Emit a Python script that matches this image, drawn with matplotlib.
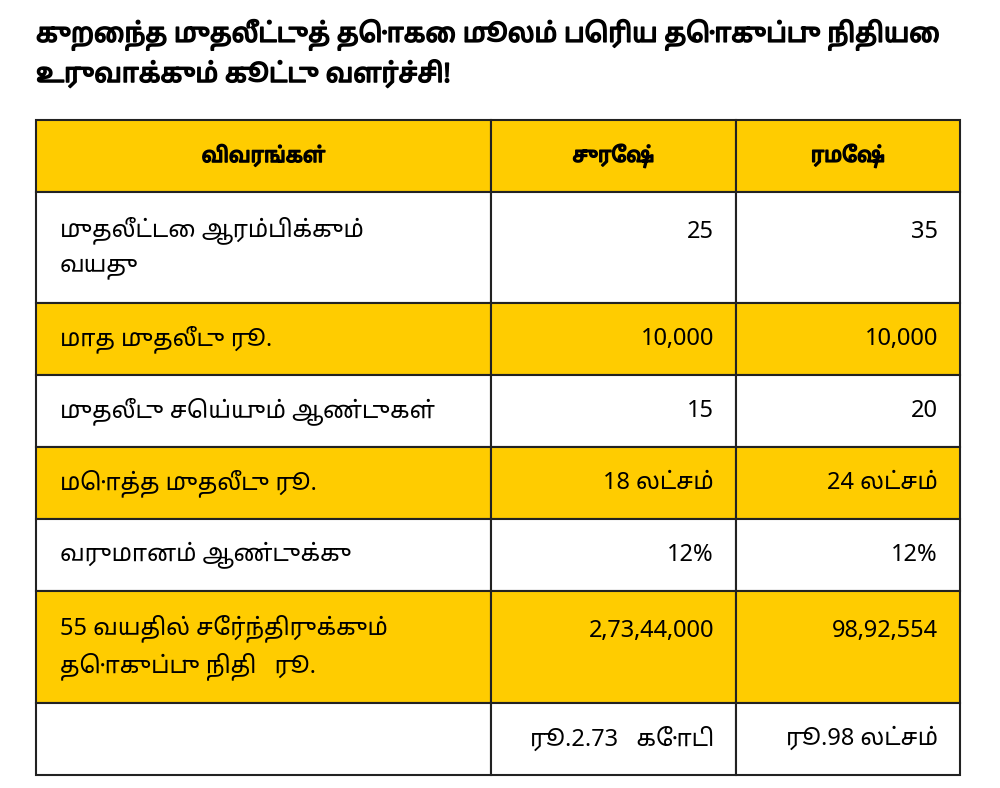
import matplotlib.pyplot as plt
import matplotlib.patches as mpatches
import matplotlib.patheffects as pe
from matplotlib import font_manager

names = {f.name for f in font_manager.fontManager.ttflist}
tamil = [f for f in ['Noto Sans Tamil', 'Lohit Tamil', 'Noto Serif Tamil', 'FreeSerif'] if f in names]
plt.rcParams['font.family'] = tamil + ['Noto Sans', 'DejaVu Sans']

TITLE = ['குறைந்த முதலீட்டுத் தொகை மூலம் பெரிய தொகுப்பு நிதியை',
         'உருவாக்கும் கூட்டு வளர்ச்சி!']
HEADERS = ['விவரங்கள்', 'சுரேஷ்', 'ரமேஷ்']
ROW_LABELS = ['முதலீட்டை ஆரம்பிக்கும்\nவயது', 'மாத முதலீடு ரூ.', 'முதலீடு செய்யும் ஆண்டுகள்',
              'மொத்த முதலீடு ரூ.', 'வருமானம் ஆண்டுக்கு',
              '55 வயதில் சேர்ந்திருக்கும்\nதொகுப்பு நிதி   ரூ.', '']
SURESH = ['25', '10,000', '15', '18 லட்சம்', '12%', '2,73,44,000', 'ரூ.2.73   கோடி']
RAMESH = ['35', '10,000', '20', '24 லட்சம்', '12%', '98,92,554', 'ரூ.98 லட்சம்']

YELLOW = '#FFCC00'
col_x = [36, 491, 736, 960]
row_y = [120, 192, 303, 375, 447, 519, 591, 703, 775]
bold = [pe.withStroke(linewidth=1.1, foreground='black')]

fig = plt.figure(figsize=(10, 7.88), dpi=100)
ax = fig.add_axes([0, 0, 1, 1])
ax.set_xlim(0, 1000)
ax.set_ylim(788, 0)
ax.axis('off')

for i, line in enumerate(TITLE):
    ax.text(36, 35 + 40 * i, line, fontsize=19, fontweight='bold', va='center', ha='left',
            path_effects=bold)

for r in range(len(row_y) - 1):
    y0, y1 = row_y[r], row_y[r + 1]
    fill = YELLOW if r in (0, 2, 4, 6) else 'white'
    for c in range(3):
        ax.add_patch(mpatches.Rectangle((col_x[c], y0), col_x[c + 1] - col_x[c], y1 - y0,
                                        facecolor=fill, edgecolor='#222222', linewidth=1.5))
    ym = (y0 + y1) / 2
    if r == 0:
        for c, h in enumerate(HEADERS):
            ax.text((col_x[c] + col_x[c + 1]) / 2, ym, h, fontsize=15, fontweight='bold',
                    ha='center', va='center', path_effects=bold)
    else:
        k = r - 1
        yv = y0 + 40 if k in (0, 5) else ym
        ax.text(60, ym, ROW_LABELS[k], fontsize=17, ha='left', va='center', linespacing=1.5)
        ax.text(col_x[2] - 22, yv, SURESH[k], fontsize=17, ha='right', va='center')
        ax.text(col_x[3] - 22, yv, RAMESH[k], fontsize=17, ha='right', va='center')

fig.savefig('out.png', dpi=100, facecolor='white')
